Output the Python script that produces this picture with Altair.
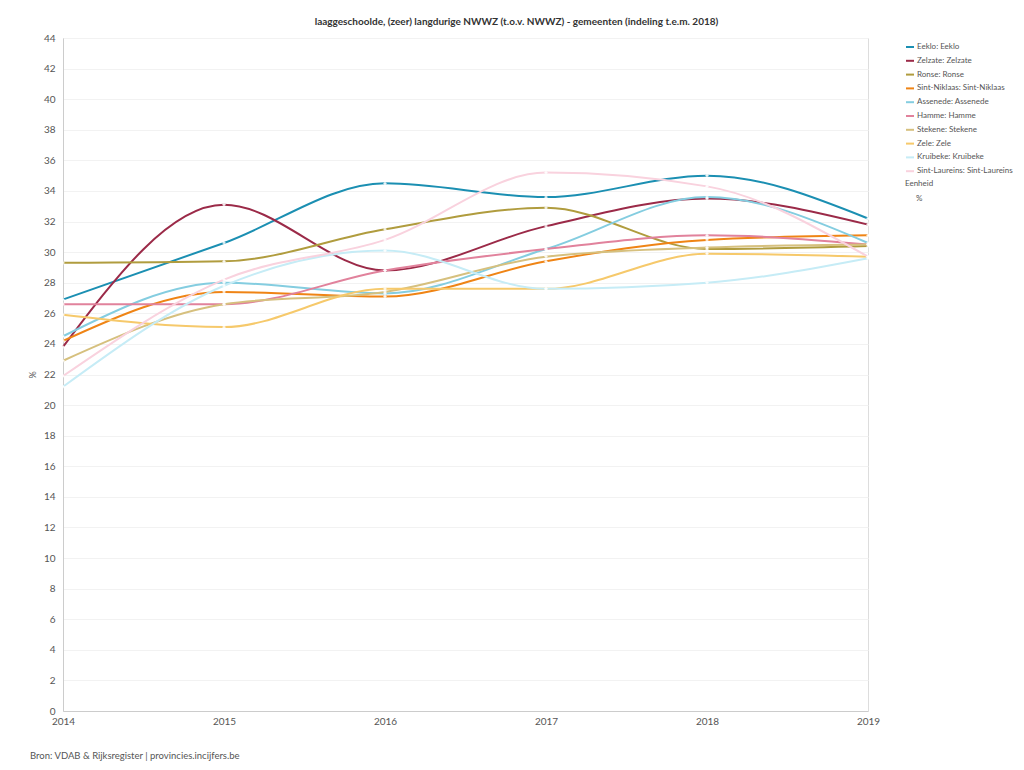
import altair as alt
import pandas as pd

years = [2014, 2015, 2016, 2017, 2018, 2019]

series_names = [
    "Eeklo: Eeklo",
    "Zelzate: Zelzate",
    "Ronse: Ronse",
    "Sint-Niklaas: Sint-Niklaas",
    "Assenede: Assenede",
    "Hamme: Hamme",
    "Stekene: Stekene",
    "Zele: Zele",
    "Kruibeke: Kruibeke",
    "Sint-Laureins: Sint-Laureins",
]

eeklo = [26.9, 30.6, 34.5, 33.6, 35.0, 32.2]
zelzate = [23.8, 33.1, 28.8, 31.7, 33.5, 31.8]
ronse = [29.3, 29.4, 31.5, 32.9, 30.2, 30.4]
sint_niklaas = [24.2, 27.4, 27.1, 29.4, 30.8, 31.1]
assenede = [24.5, 28.0, 27.3, 30.2, 33.6, 30.6]
hamme = [26.6, 26.6, 28.8, 30.2, 31.1, 30.5]
stekene = [22.9, 26.6, 27.4, 29.7, 30.3, 30.5]
zele = [25.9, 25.1, 27.6, 27.6, 29.9, 29.7]
kruibeke = [21.2, 27.8, 30.1, 27.6, 28.0, 29.6]
sint_laureins = [21.9, 28.2, 30.8, 35.2, 34.3, 29.7]

colors = [
    "#1b8fb2",
    "#9b2a48",
    "#b09c3e",
    "#ef8415",
    "#84cde0",
    "#e1829c",
    "#d6c07e",
    "#f6c96b",
    "#c6ecf6",
    "#f9d2de",
]

y_ticks = list(range(0, 45, 2))

all_values = [eeklo, zelzate, ronse, sint_niklaas, assenede, hamme,
              stekene, zele, kruibeke, sint_laureins]

rows = []
for name, vals in zip(series_names, all_values):
    for yr, v in zip(years, vals):
        rows.append({"jaar": yr, "waarde": v, "gebied": name})
df = pd.DataFrame(rows)

FONT = "Lato"

x_enc = alt.X("jaar:Q",
              scale=alt.Scale(domain=[2014, 2019], nice=False, zero=False),
              axis=alt.Axis(values=years, format="d", title=None, grid=False,
                            ticks=False, labelPadding=5, labelFontSize=10,
                            labelColor="#555", domainColor="#cccccc",
                            labelFont=FONT, labelFlush=False,
                            labelOverlap=False))
y_enc = alt.Y("waarde:Q",
              scale=alt.Scale(domain=[0, 44], nice=False),
              axis=alt.Axis(values=y_ticks, title="%", titleFontSize=9,
                            titleFontWeight="normal", titleColor="#555",
                            titlePadding=6, ticks=False, labelPadding=8,
                            labelFontSize=10, labelColor="#555",
                            gridColor="#f2f2f2", domainColor="#cccccc",
                            labelFont=FONT, titleFont=FONT,
                            labelOverlap=False, labelFlush=False))

color_enc = alt.Color("gebied:N",
                      scale=alt.Scale(domain=series_names, range=colors),
                      legend=alt.Legend(title=None, orient="none",
                                        legendX=842, legendY=4,
                                        symbolType="stroke", symbolSize=64,
                                        symbolStrokeWidth=2, labelFontSize=8,
                                        labelColor="#555", labelFont=FONT,
                                        rowPadding=4.8, labelLimit=300,
                                        labelOffset=2, padding=0))

lines = alt.Chart(df).mark_line(interpolate="monotone", strokeWidth=2).encode(
    x=x_enc, y=y_enc, color=color_enc,
    order=alt.Order("jaar:Q"),
)

pts = alt.Chart(df).mark_point(shape="cross", filled=True, color="white",
                               size=10, opacity=0.9).encode(
    x=x_enc, y=y_enc
)

notes = pd.DataFrame({"t": ["Eenheid"]})
eenheid = alt.Chart(notes).mark_text(align="left", baseline="middle",
                                     fontSize=8, color="#555", font=FONT).encode(
    text="t:N", x=alt.value(842), y=alt.value(146))

pct = pd.DataFrame({"t": ["%"]})
pct_txt = alt.Chart(pct).mark_text(align="left", baseline="middle",
                                   fontSize=8, color="#555", font=FONT).encode(
    text="t:N", x=alt.value(853), y=alt.value(161))

src = pd.DataFrame({"t": ["Bron: VDAB & Rijksregister | provincies.incijfers.be"]})
src_txt = alt.Chart(src).mark_text(align="left", baseline="middle",
                                   fontSize=9.5, color="#555", font=FONT).encode(
    text="t:N", x=alt.value(-33), y=alt.value(718))

chart = alt.layer(lines, pts, eenheid, pct_txt, src_txt).properties(
    width=805,
    height=673,
    title=alt.TitleParams(
        "laaggeschoolde, (zeer) langdurige NWWZ (t.o.v. NWWZ) - gemeenten (indeling t.e.m. 2018)",
        fontSize=10, fontWeight="bold", color="#333", font=FONT,
        anchor="middle", frame="group", dx=51, offset=6),
    autosize=alt.AutoSizeParams(type="none"),
    padding={"left": 55, "top": 30, "right": 148, "bottom": 51},
).configure_view(stroke="#cccccc").configure(background="white")

chart.save("out.html", embed_options={"renderer": "svg", "actions": False})
